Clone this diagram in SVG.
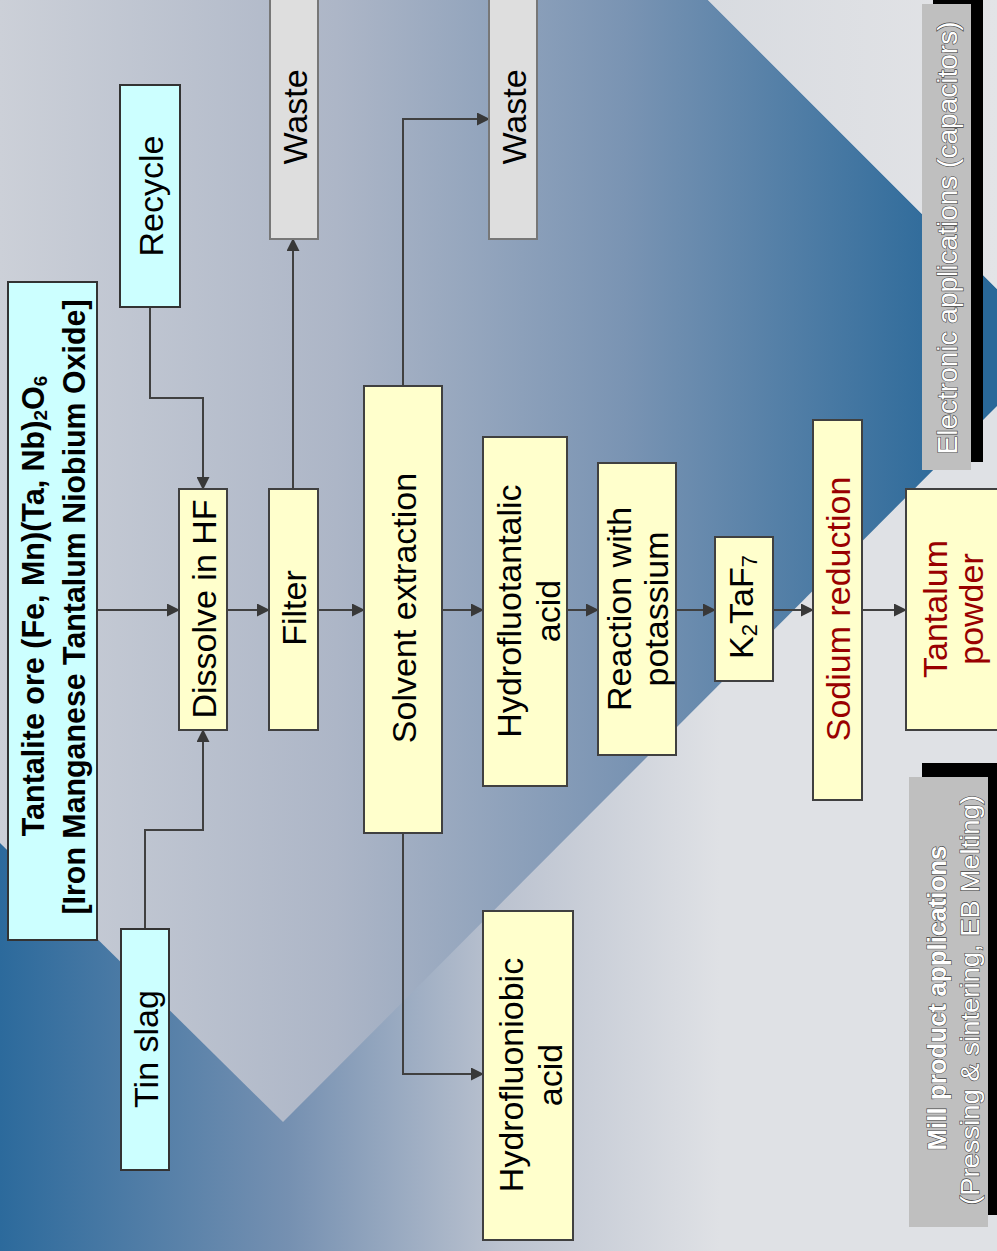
<svg xmlns="http://www.w3.org/2000/svg" width="997" height="1251" viewBox="0 0 997 1251">
<defs>
<linearGradient id="gLow" x1="0" y1="0" x2="720" y2="0" gradientUnits="userSpaceOnUse">
<stop offset="0" stop-color="#2c6a9c"/>
<stop offset="0.4" stop-color="#7590b1"/>
<stop offset="0.7" stop-color="#bcc3d0"/>
<stop offset="1" stop-color="#dfe1e5"/>
</linearGradient>
<linearGradient id="gUp" x1="0" y1="0" x2="960" y2="0" gradientUnits="userSpaceOnUse">
<stop offset="0" stop-color="#ccd0d8"/>
<stop offset="0.35" stop-color="#adb6c7"/>
<stop offset="0.65" stop-color="#7a94b3"/>
<stop offset="1" stop-color="#296899"/>
</linearGradient>
<linearGradient id="gTop" x1="708" y1="0" x2="997" y2="0" gradientUnits="userSpaceOnUse">
<stop offset="0" stop-color="#d8dbe0"/>
<stop offset="1" stop-color="#e3e4e7"/>
</linearGradient>
<marker id="arr" markerUnits="userSpaceOnUse" markerWidth="13" markerHeight="13" refX="12" refY="6.5" orient="auto">
<path d="M0,0 L13,6.5 L0,13 z" fill="#383838"/>
</marker>
<style>
.t{font-family:"Liberation Sans",Arial,sans-serif;font-size:34px;fill:#000}
.b{font-weight:bold;font-size:30.5px}
.red{fill:#990000}
.cy{fill:#ccffff;stroke:#333;stroke-width:2}
.ye{fill:#ffffcc;stroke:#404040;stroke-width:2}
.gr{fill:#dedede;stroke:#777;stroke-width:2}
.app{fill:#bfbfbf}
.sh{fill:#000}
.wt{font-family:"Liberation Sans",Arial,sans-serif;fill:#fff;stroke:#444;stroke-width:1.2;paint-order:stroke}
.c{fill:none;stroke:#404040;stroke-width:2}
</style>
</defs>
<g id="background">
<rect x="0" y="0" width="997" height="1251" fill="url(#gLow)"/>
<polygon points="0,0 708,0 997,289 997,406 283,1122 0,843" fill="url(#gUp)"/>
<polygon points="708,0 997,0 997,289" fill="url(#gTop)"/>
</g>
<g id="connectors">
<path class="c" d="M97,610 H179" marker-end="url(#arr)"/>
<path class="c" d="M150,307 V398 H203 V489" marker-end="url(#arr)"/>
<path class="c" d="M145,929 V830 H203 V730" marker-end="url(#arr)"/>
<path class="c" d="M227,610 H269" marker-end="url(#arr)"/>
<path class="c" d="M293,489 V239" marker-end="url(#arr)"/>
<path class="c" d="M318,610 H364" marker-end="url(#arr)"/>
<path class="c" d="M403,386 V119 H489" marker-end="url(#arr)"/>
<path class="c" d="M403,833 V1074 H483" marker-end="url(#arr)"/>
<path class="c" d="M442,610 H483" marker-end="url(#arr)"/>
<path class="c" d="M567,610 H598" marker-end="url(#arr)"/>
<path class="c" d="M676,610 H715" marker-end="url(#arr)"/>
<path class="c" d="M773,610 H813" marker-end="url(#arr)"/>
<path class="c" d="M862,610 H906" marker-end="url(#arr)"/>
</g>
<g id="ore">
<rect class="cy" x="8" y="282" width="89" height="658"/>
<text class="t b" transform="translate(33,606) rotate(-90)" text-anchor="middle" dominant-baseline="central">Tantalite ore (Fe, Mn)(Ta, Nb)<tspan font-size="19" dy="7">2</tspan><tspan dy="-7">O</tspan><tspan font-size="19" dy="7">6</tspan></text>
<text class="t b" transform="translate(74,607) rotate(-90)" text-anchor="middle" dominant-baseline="central" textLength="615" lengthAdjust="spacingAndGlyphs">[Iron Manganese Tantalum Niobium Oxide]</text>
</g>
<g id="recycle">
<rect class="cy" x="120" y="85" width="60" height="222"/>
<text class="t" transform="translate(151,196) rotate(-90)" text-anchor="middle" dominant-baseline="central">Recycle</text>
</g>
<g id="tinslag">
<rect class="cy" x="121" y="929" width="48" height="241"/>
<text class="t" transform="translate(146,1049) rotate(-90)" text-anchor="middle" dominant-baseline="central">Tin slag</text>
</g>
<g id="dissolve">
<rect class="ye" x="179" y="489" width="48" height="241"/>
<text class="t" transform="translate(204,609) rotate(-90)" text-anchor="middle" dominant-baseline="central">Dissolve in HF</text>
</g>
<g id="filter">
<rect class="ye" x="269" y="489" width="49" height="241"/>
<text class="t" transform="translate(294,608) rotate(-90)" text-anchor="middle" dominant-baseline="central">Filter</text>
</g>
<g id="waste1">
<rect class="gr" x="270" y="-2" width="48" height="241"/>
<text class="t" transform="translate(295,117) rotate(-90)" text-anchor="middle" dominant-baseline="central">Waste</text>
</g>
<g id="solvent">
<rect class="ye" x="364" y="386" width="78" height="447"/>
<text class="t" transform="translate(404,608) rotate(-90)" text-anchor="middle" dominant-baseline="central">Solvent extraction</text>
</g>
<g id="waste2">
<rect class="gr" x="489" y="-2" width="48" height="241"/>
<text class="t" transform="translate(514,117) rotate(-90)" text-anchor="middle" dominant-baseline="central">Waste</text>
</g>
<g id="hydrotantalic">
<rect class="ye" x="483" y="437" width="84" height="349"/>
<text class="t" transform="translate(509,611) rotate(-90)" text-anchor="middle" dominant-baseline="central">Hydrofluotantalic</text>
<text class="t" transform="translate(548,611) rotate(-90)" text-anchor="middle" dominant-baseline="central">acid</text>
</g>
<g id="hydroniobic">
<rect class="ye" x="483" y="911" width="90" height="329"/>
<text class="t" transform="translate(511,1075) rotate(-90)" text-anchor="middle" dominant-baseline="central">Hydrofluoniobic</text>
<text class="t" transform="translate(550,1075) rotate(-90)" text-anchor="middle" dominant-baseline="central">acid</text>
</g>
<g id="reaction">
<rect class="ye" x="598" y="463" width="78" height="292"/>
<text class="t" transform="translate(619,609) rotate(-90)" text-anchor="middle" dominant-baseline="central">Reaction with</text>
<text class="t" transform="translate(656,609) rotate(-90)" text-anchor="middle" dominant-baseline="central">potassium</text>
</g>
<g id="k2taf7">
<rect class="ye" x="715" y="537" width="58" height="144"/>
<text class="t" transform="translate(741,607) rotate(-90)" text-anchor="middle" dominant-baseline="central">K<tspan font-size="22" dy="8">2</tspan><tspan dy="-8">TaF</tspan><tspan font-size="22" dy="8">7</tspan></text>
</g>
<g id="sodium">
<rect class="ye" x="813" y="420" width="49" height="380"/>
<text class="t red" transform="translate(838,609) rotate(-90)" text-anchor="middle" dominant-baseline="central">Sodium reduction</text>
</g>
<g id="tantalum">
<rect class="ye" x="906" y="489" width="96" height="241"/>
<text class="t red" transform="translate(935,609) rotate(-90)" text-anchor="middle" dominant-baseline="central">Tantalum</text>
<text class="t red" transform="translate(971,609) rotate(-90)" text-anchor="middle" dominant-baseline="central">powder</text>
</g>
<g id="electronic">
<rect class="sh" x="933" y="0" width="50" height="462"/>
<rect class="app" x="922" y="4" width="49" height="466"/>
<text class="wt" font-size="28" transform="translate(947,238) rotate(-90)" text-anchor="middle" dominant-baseline="central" textLength="433" lengthAdjust="spacingAndGlyphs">Electronic applications (capacitors)</text>
</g>
<g id="mill">
<rect class="sh" x="922" y="763" width="75" height="452"/>
<rect class="app" x="909" y="777" width="79" height="450"/>
<text class="wt" font-weight="bold" font-size="26" transform="translate(937,998) rotate(-90)" text-anchor="middle" dominant-baseline="central" textLength="305" lengthAdjust="spacingAndGlyphs">Mill product applications</text>
<text class="wt" font-size="26" transform="translate(970,1000) rotate(-90)" text-anchor="middle" dominant-baseline="central" textLength="410" lengthAdjust="spacingAndGlyphs">(Pressing &amp; sintering, EB Melting)</text>
</g>
</svg>
